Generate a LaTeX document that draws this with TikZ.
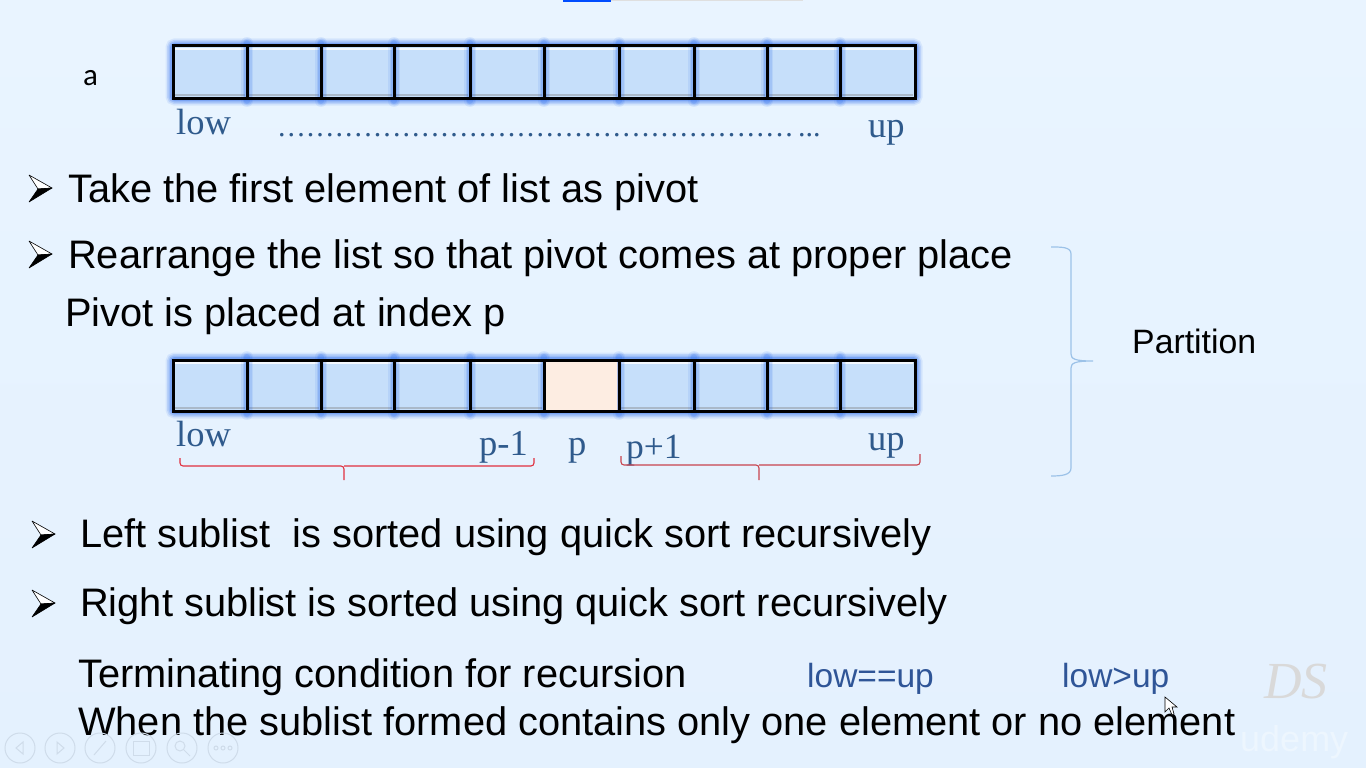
\documentclass[tikz,border=0pt]{standalone}
\usepackage{fontspec}
\setmainfont{Liberation Sans}
\newfontfamily\serifft{Liberation Serif}
\newfontfamily\dotsft[LetterSpace=6.9]{Liberation Serif}
\newfontfamily\calibft{Carlito}
\usetikzlibrary{calc,positioning}
\definecolor{bgblue}{HTML}{E4F1FE}
\definecolor{bgtop}{HTML}{E9F4FF}
\definecolor{cellblue}{HTML}{C6DFFA}
\definecolor{cellpeach}{HTML}{FDEDE2}
\definecolor{glowblue}{HTML}{2F6FEF}
\definecolor{inkblue}{HTML}{2F5A8C}
\definecolor{condblue}{HTML}{2F5597}
\definecolor{bracered}{HTML}{E0303E}
\definecolor{braceblue}{HTML}{9CC2E8}
\definecolor{toolgray}{HTML}{CFDCEA}
\tikzset{
  bodytxt/.style={anchor=base west,inner sep=0pt,text=black,font=\fontsize{39.8}{42}\selectfont},
  idxtxt/.style={anchor=base west,inner sep=0pt,text=inkblue,font=\serifft\fontsize{36.5}{38}\selectfont},
  condtxt/.style={anchor=base west,inner sep=0pt,text=condblue,font=\fontsize{33.5}{36}\selectfont},
  toolring/.style={draw=toolgray,line width=1pt},
  redbrace/.style={draw=bracered,line width=1.1pt,rounded corners=3pt},
}
% row of ten cells, #1 top, #2 bottom
\newcommand{\cellrow}[2]{
\foreach \w/\o in {15/.1,12/.16,9/.22,6/.3}
{\draw[glowblue,opacity=\o,line width=\w pt,rounded corners=2pt](173,#1)rectangle(915,#2);}
\foreach \xa/\xb in {173/247,247/321,321/394,394/470,470/544,544/619,619/694,694/767,767/840,840/915}
{\fill[cellblue](\xa,#1)rectangle(\xb,#2);
\draw[white,opacity=.8,line width=2.5pt](\xa+2,#1+3)--(\xb-2,#1+3);
\draw[gray,opacity=.4,line width=2.5pt](\xa+2,#2-3)--(\xb-2,#2-3);}
}
\newcommand{\cellgrid}[2]{
\foreach \i in {247,321,394,470,544,619,694,767,840}
{\foreach \w/\o in {12/.1,9/.14,6/.2}
{\draw[glowblue,opacity=\o,line width=\w pt,line cap=round](\i,#1-3)--(\i,#2+3);}}
\draw[black,line width=3pt](173,#1)rectangle(915,#2);
\foreach \i in {247,321,394,470,544,619,694,767,840}
{\draw[black,line width=3pt](\i,#1)--(\i,#2);}
}
% list arrow bullet
\newcommand{\listmark}[2]{
\filldraw[draw=black,fill=white,line width=.6pt,line join=round](#1,#2-13)--(#1+23,#2)--(#1+9,#2+1)--cycle;
\filldraw[draw=black,fill=black,line width=.6pt,line join=round](#1,#2+14)--(#1+23,#2)--(#1+9,#2+1)--cycle;
}
\begin{document}
\begin{tikzpicture}[x=1pt,y=-1pt]
\useasboundingbox(0,0)rectangle(1366,768);
\shade[top color=bgtop,bottom color=bgblue](0,0)rectangle(1366,768);
\fill[blue!70!cyan](563,0)rectangle(611,2);
\fill[gray!25](611,0)rectangle(803,1.5);
% first list
\cellrow{46}{98}
\cellgrid{46}{98}
\node[anchor=base west,inner sep=0pt,font=\calibft\fontsize{31}{32}\selectfont](arrname)at(83,85){a};
\node[idxtxt](lowa)at(176,134){low};
\node[idxtxt,font=\dotsft\fontsize{30}{32}\selectfont](dotsa)at(278,136){......................................................};
\node[idxtxt,font=\serifft\fontsize{30}{32}\selectfont](dotsb)at(798,136){...};
\node[idxtxt](upa)at(868,137){up};
% bullets and text
\listmark{29}{188}
\node[bodytxt](taketxt)at(68,202){Take the first element of list as pivot};
\listmark{29}{254}
\node[bodytxt](rearrtxt)at(68,268){Rearrange the list so that pivot comes at proper place};
\node[bodytxt](pivottxt)at(65,326){Pivot is placed at index p};
% second list
\cellrow{360}{411}
\fill[cellpeach](544,360)rectangle(619,411);
\cellgrid{360}{411}
\fill[cellpeach](546,362)rectangle(617,409.5);
\node[idxtxt](lowb)at(176,446){low};
\node[idxtxt](pmin)at(479,455){p-1};
\node[idxtxt](pidx)at(568,455){p};
\node[idxtxt,font=\serifft\fontsize{35.5}{38}\selectfont](pplus)at(626,458){p+1};
\node[idxtxt](upb)at(868,450){up};
\draw[redbrace](180,458)--(180,466)--(344,466)--(344,480);
\draw[redbrace](344,466)--(534,466)--(534,458);
\draw[redbrace,draw=bracered!75!gray](621,456)--(621,465)--(759,465)--(759,480);
\draw[redbrace,draw=bracered!75!gray](759,465)--(920,465)--(920,454);
% partition brace
\draw[braceblue,line width=1.2pt](1051,247)..controls(1062,247)and(1071,247)..(1071,254)--(1071,354)..controls(1071,359)and(1075,361)..(1093,361)..controls(1075,361)and(1071,363)..(1071,368)--(1071,468)..controls(1071,475)and(1062,476)..(1051,476);
\node[bodytxt,font=\fontsize{33.8}{36}\selectfont](parttxt)at(1132,353){Partition};
% recursion
\listmark{32}{534}
\node[bodytxt](lefttxt)at(80,547){Left sublist\ \ is sorted using quick sort recursively};
\listmark{32}{603}
\node[bodytxt](righttxt)at(80,616){Right sublist is sorted using quick sort recursively};
\node[bodytxt](termtxt)at(78,687){Terminating condition for recursion};
\node[condtxt](condeq)at(807,687){low==up};
\node[condtxt](condgt)at(1062,687){low>up};
% watermark
\node[anchor=base west,inner sep=0pt,text=gray!30,font=\serifft\itshape\fontsize{52}{54}\selectfont](dsmark)at(1264,698){DS};
\node[anchor=base west,inner sep=0pt,text=white!35!bgblue,font=\fontsize{36}{38}\selectfont](udemymark)at(1240,751){udemy};
\node[bodytxt](whentxt)at(78,735){When the sublist formed contains only one element or no element};
% slide toolbar
\foreach \i in {20,60,100,141,182,223}
{\draw[toolring](\i,748)circle(15);}
\draw[toolring](23,742)--(16,748)--(23,754)--cycle;
\draw[toolring](57,742)--(64,748)--(57,754)--cycle;
\draw[toolring](94,755)--(106,741);
\draw[toolring](133,741)rectangle(149,755);
\draw[toolring](180,746)circle(5);
\draw[toolring](184,750)--(190,756);
\foreach \i in {216,223,230}
{\draw[toolring](\i,748)circle(2);}
% mouse pointer
\filldraw[draw=black,fill=white,line width=.6pt](1165,697)--(1165,712)--(1169,708)--(1172,715)--(1174,714)--(1172,707)--(1177,707)--cycle;
\end{tikzpicture}
\end{document}
